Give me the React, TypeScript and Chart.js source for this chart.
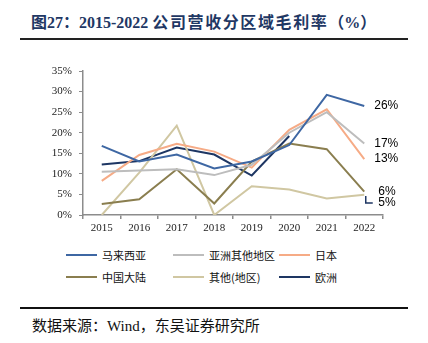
import React, { useEffect, useRef } from 'react';
import { Chart, registerables } from 'chart.js';
Chart.register(...registerables);

const years = ['2015', '2016', '2017', '2018', '2019', '2020', '2021', '2022'];
const malaysia = [16.8, 13.0, 14.7, 11.3, 13.0, 17.0, 29.2, 26.5];
const asiaOther = [10.5, 10.8, 11.1, 9.7, 12.2, 20.0, 25.0, 17.4];
const japan = [8.3, 14.6, 17.3, 15.4, 11.5, 20.7, 25.7, 13.6];
const china = [2.7, 3.8, 11.1, 2.8, 13.0, 17.4, 16.0, 5.7];
const otherRegion = [0, 10.3, 21.7, 0, 7.0, 6.2, 4.0, 4.9];
const europe = [12.3, 13.1, 16.4, 14.7, 9.6, 19.2, null, 4.6];

const seriesNames = ['马来西亚', '亚洲其他地区', '日本', '中国大陆', '其他(地区)', '欧洲'];
const seriesData = [malaysia, asiaOther, japan, china, otherRegion, europe];
const seriesColors = ['#3E67A3', '#BDBDBD', '#F6AB86', '#8A7E4F', '#D0C7A2', '#1E3663'];
const endLabels = ['26%', '17%', '13%', '6%', '', '5%'];
const yTicksMax = 35;
const yTickStep = 5;

const labelDx = [10, 10, 10, 14, 0, 14];
const labelDy = [0, 0, 0, 0, 0, 7];
const leader = [false, false, false, false, false, true];

const endLabelPlugin = {
  id: 'endLabels',
  afterDatasetsDraw(chart: any) {
    const ctx = chart.ctx;
    ctx.save();
    ctx.font = '12px "Liberation Sans", Arial, sans-serif';
    ctx.textBaseline = 'middle';
    ctx.textAlign = 'left';
    chart.data.datasets.forEach((ds: any, i: number) => {
      const text = endLabels[i];
      if (!text) return;
      const meta = chart.getDatasetMeta(i);
      const pt = meta.data[meta.data.length - 1];
      const x = pt.x;
      const y = pt.y;
      if (leader[i]) {
        ctx.strokeStyle = seriesColors[i];
        ctx.lineWidth = 1.5;
        ctx.beginPath();
        ctx.moveTo(x + 1.5, y);
        ctx.lineTo(x + 1.5, y + labelDy[i]);
        ctx.lineTo(x + 8.5, y + labelDy[i]);
        ctx.stroke();
      }
      ctx.fillStyle = '#000';
      ctx.fillText(text, x + labelDx[i], y + labelDy[i]);
    });
    ctx.restore();
  },
};

export default function App() {
  const canvasRef = useRef<HTMLCanvasElement | null>(null);

  useEffect(() => {
    const canvas = canvasRef.current;
    if (!canvas) return;
    const tickFont = { family: '"Liberation Serif", "Times New Roman", serif', size: 11 };
    const chart = new Chart(canvas, {
      type: 'line',
      data: {
        labels: years,
        datasets: seriesData.map((d, i) => ({
          label: seriesNames[i],
          data: d,
          borderColor: seriesColors[i],
          backgroundColor: seriesColors[i],
          borderWidth: 2,
          pointRadius: 0,
          pointHoverRadius: 0,
          tension: 0,
          spanGaps: false,
          fill: false,
        })),
      },
      options: {
        responsive: false,
        animation: false,
        devicePixelRatio: 1,
        layout: { padding: { top: 31, right: 45, left: 0, bottom: 0 } },
        plugins: {
          legend: { display: false },
          tooltip: { enabled: false },
          title: { display: false },
        },
        scales: {
          x: {
            type: 'category',
            offset: true,
            grid: {
              offset: true,
              drawOnChartArea: false,
              drawTicks: true,
              tickLength: 4,
              color: '#8C8C8C',
              lineWidth: 1.5,
            },
            border: { display: true, color: '#8C8C8C', width: 1.5 },
            ticks: { font: tickFont, color: '#222', padding: 3, maxRotation: 0, autoSkip: false },
            afterFit: (scale: any) => {
              scale.height = 30;
            },
          },
          y: {
            min: 0,
            max: yTicksMax,
            grid: {
              drawOnChartArea: false,
              drawTicks: true,
              tickLength: 4,
              color: '#8C8C8C',
              lineWidth: 1,
            },
            border: { display: true, color: '#8C8C8C', width: 1.5 },
            ticks: {
              stepSize: yTickStep,
              font: tickFont,
              color: '#222',
              padding: 7,
              callback: (v: any) => v + '%',
            },
            afterFit: (scale: any) => {
              scale.width = 83;
            },
          },
        },
      },
      plugins: [endLabelPlugin],
    });
    return () => chart.destroy();
  }, []);

  const colX = [66, 173, 279];
  const rowY = [255, 277];
  const titleFont = '"Liberation Serif", "Noto Sans CJK SC", serif';

  return (
    <div
      style={{
        position: 'fixed',
        left: 0,
        top: 0,
        width: 428,
        height: 343,
        background: '#fff',
        overflow: 'hidden',
      }}
    >
      <div
        style={{
          position: 'absolute',
          left: 31,
          top: 12,
          fontFamily: titleFont,
          fontWeight: 'bold',
          fontSize: 16,
          lineHeight: '22px',
          color: '#1F3864',
          whiteSpace: 'nowrap',
        }}
      >
        <span>图27：</span>
        <span>2015-2022 </span>
        <span style={{ letterSpacing: '1.6px' }}>公司营收分区域毛利率</span>
        <span>（%）</span>
      </div>
      <div style={{ position: 'absolute', left: 20, top: 38, width: 388, height: 2, background: '#222' }} />
      <canvas
        ref={canvasRef}
        width={428}
        height={205}
        style={{ position: 'absolute', left: 0, top: 40, width: 428, height: 205, display: 'block' }}
      />
      {seriesNames.map((name, i) => {
        const x = colX[i % 3];
        const y = rowY[Math.floor(i / 3)];
        return (
          <div key={name}>
            <div
              style={{
                position: 'absolute',
                left: x,
                top: y - 1,
                width: 31,
                height: 2,
                background: seriesColors[i],
              }}
            />
            <div
              style={{
                position: 'absolute',
                left: x + 36,
                top: y - 8,
                fontFamily: '"Noto Sans CJK SC", sans-serif',
                fontSize: 11,
                lineHeight: '16px',
                color: '#111',
                whiteSpace: 'nowrap',
              }}
            >
              {name}
            </div>
          </div>
        );
      })}
      <div style={{ position: 'absolute', left: 20, top: 307, width: 388, height: 2, background: '#111' }} />
      <div
        style={{
          position: 'absolute',
          left: 32,
          top: 316,
          fontFamily: '"Liberation Serif", "Noto Sans CJK SC", serif',
          fontSize: 15,
          lineHeight: '20px',
          color: '#111',
          whiteSpace: 'nowrap',
        }}
      >
        数据来源：Wind，东吴证券研究所
      </div>
    </div>
  );
}
